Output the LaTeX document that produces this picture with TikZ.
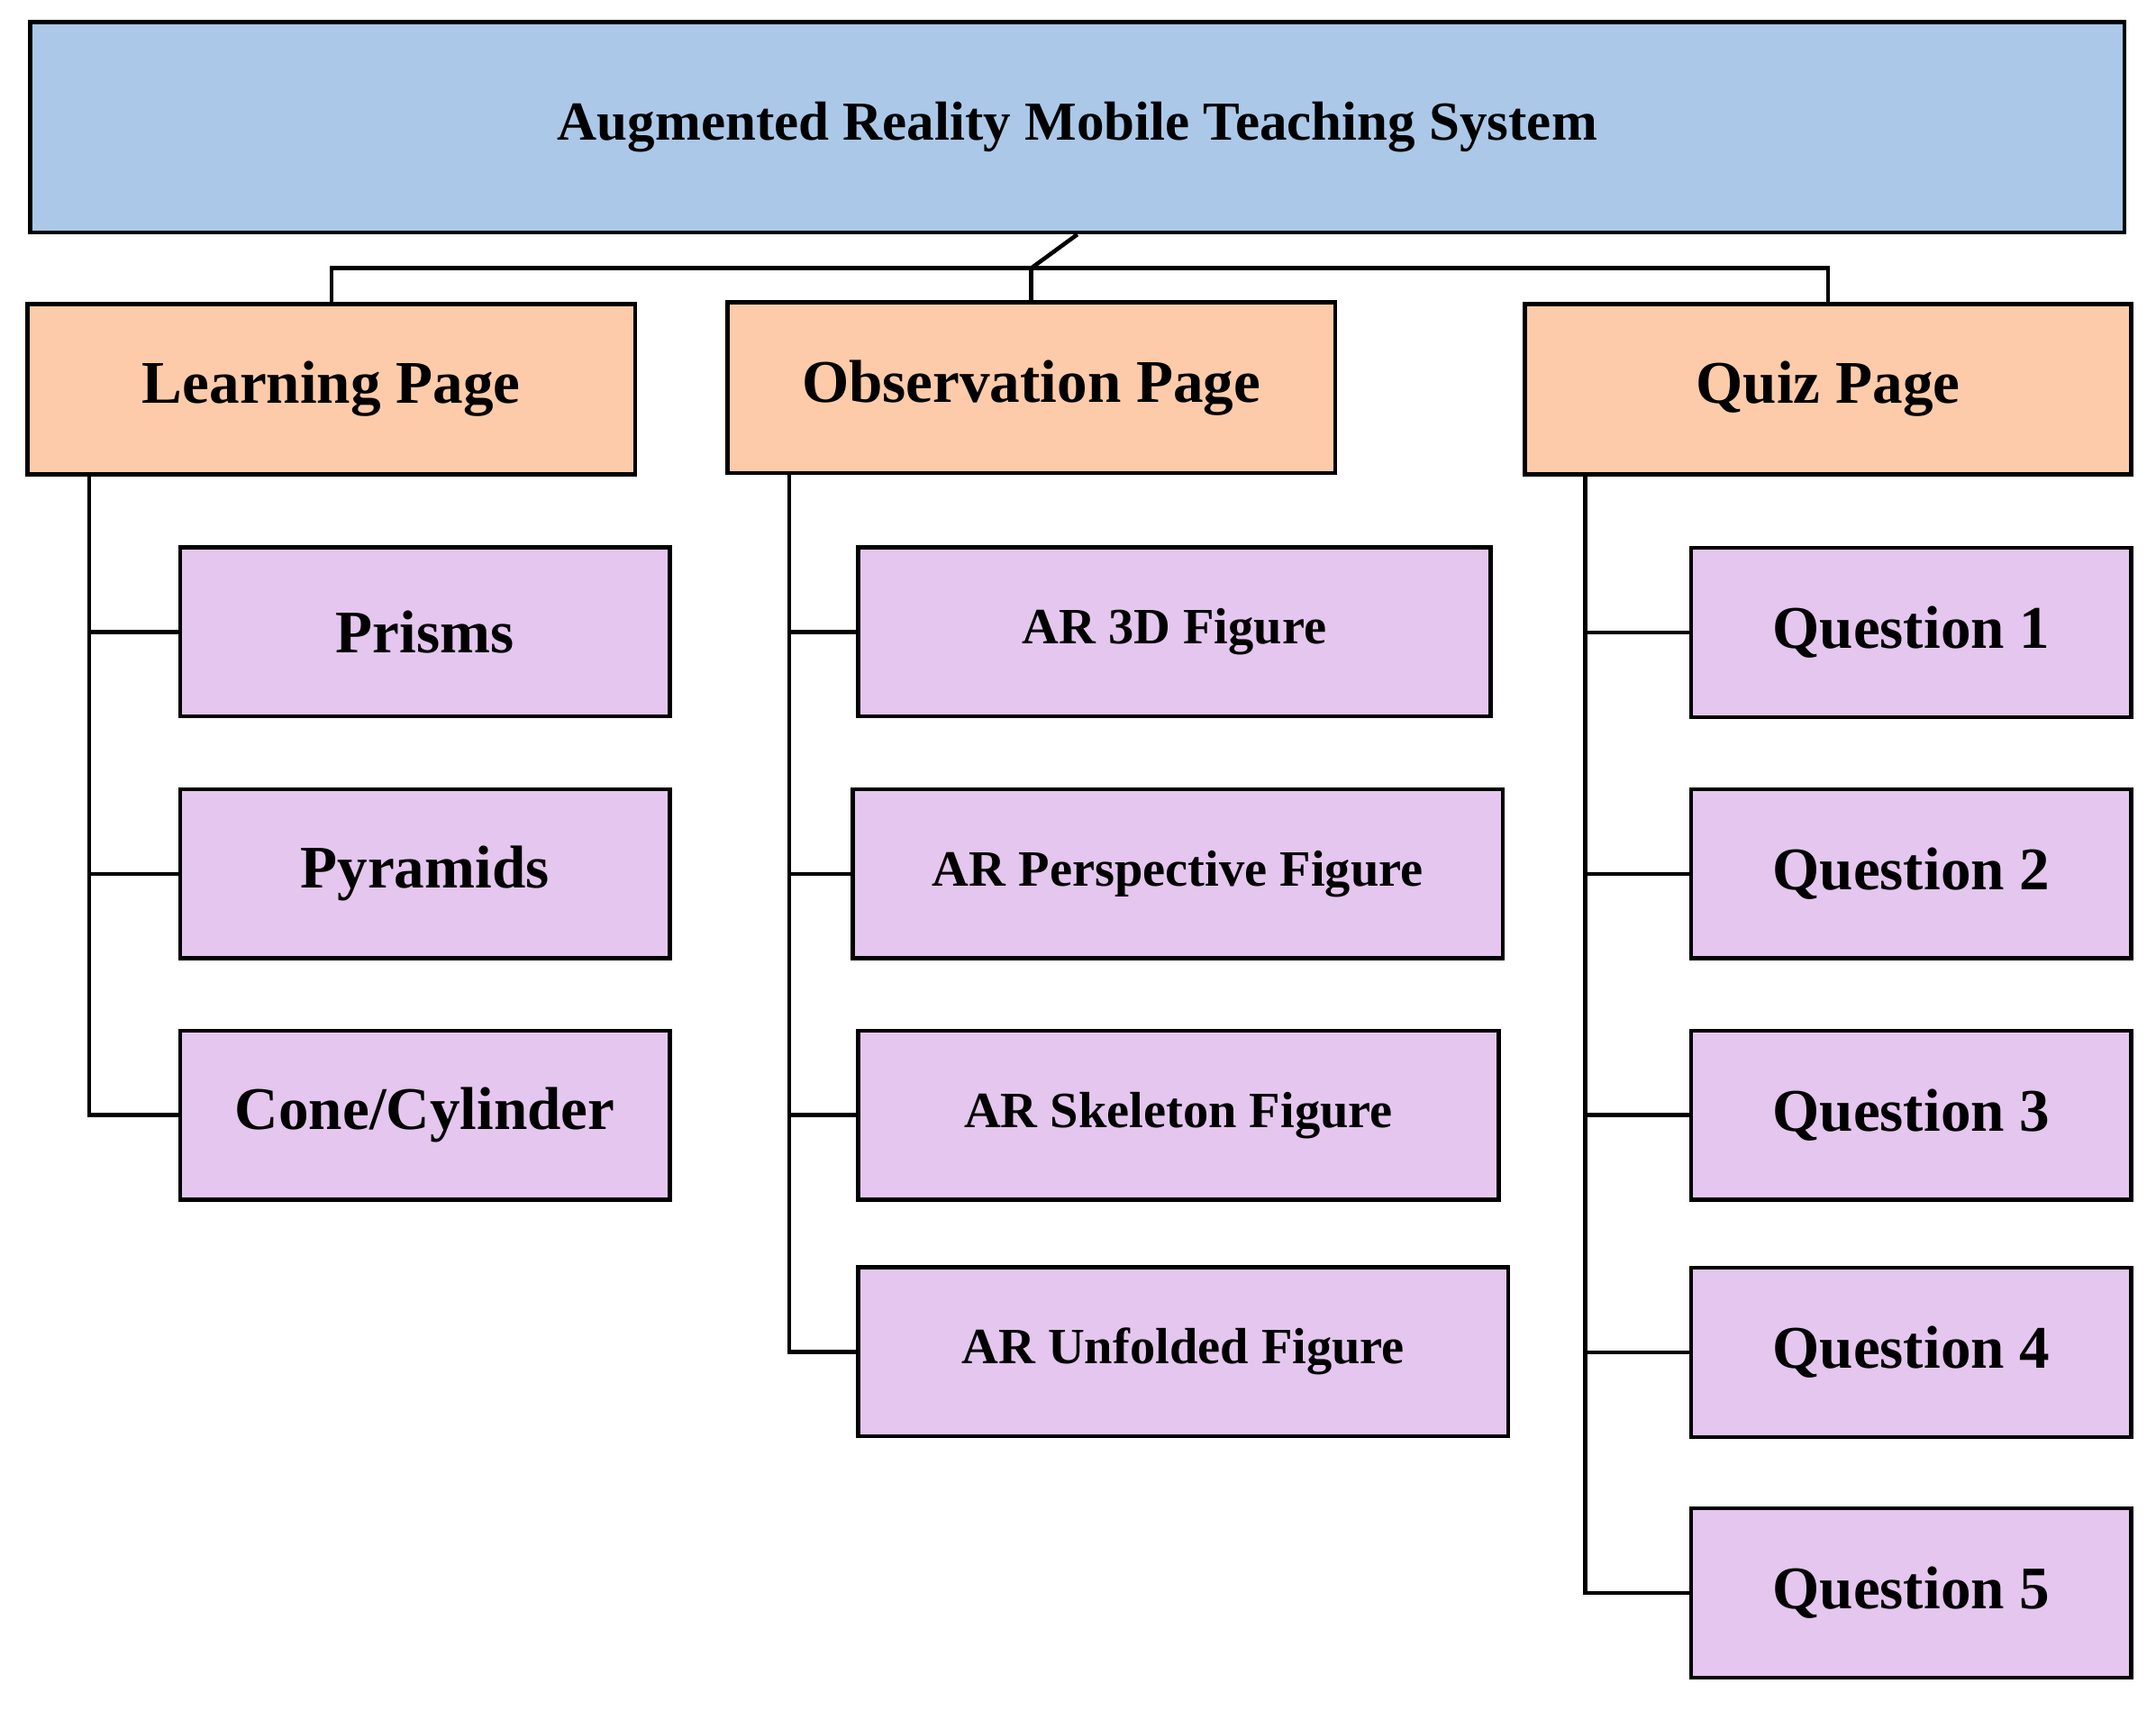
\documentclass[tikz,border=0pt]{standalone}
\usepackage{fontspec}
\setmainfont{Liberation Serif}
\begin{document}
\begin{tikzpicture}[x=1pt,y=-1pt,line width=3pt,
 bx/.style={draw=black,font=\bfseries},
 top/.style={bx,fill={rgb,255:red,171;green,200;blue,232}},
 mid/.style={bx,fill={rgb,255:red,253;green,203;blue,169}},
 leaf/.style={bx,fill={rgb,255:red,228;green,198;blue,238}}]
\useasboundingbox (0,0) rectangle (1568,1244);
\newcommand{\bxx}[7]{\draw[#1] (#3,#4) rectangle (#5,#6); \node[font=\bfseries\fontsize{#7}{#7}\selectfont] (#2) at ({(#3+#5)/2},{(#4+#6)/2}) {\strut};}
% boxes as nodes
\node[top,minimum width=1523,minimum height=153,font=\bfseries\fontsize{40}{40}\selectfont] (sys) at (783.5,92.5) {Augmented Reality Mobile Teaching System};
\tikzset{m/.style={mid,minimum width=442,minimum height=124,font=\bfseries\fontsize{44}{44}\selectfont}}
\node[m] (lp) at (241,283) {Learning Page};
\node[m] (op) at (750,282) {Observation Page};
\node[m,minimum width=441] (qp) at (1329.5,283) {Quiz Page};
\tikzset{l/.style={leaf,minimum height=123,font=\bfseries\fontsize{44}{44}\selectfont},
 a/.style={leaf,minimum height=123,font=\bfseries\fontsize{37}{37}\selectfont}}
\node[l,minimum width=356] (c1) at (309,459.5) {Prisms};
\node[l,minimum width=356] (c2) at (309,635.5) {Pyramids};
\node[l,minimum width=356] (c3) at (309,811) {Cone/Cylinder};
\node[a,minimum width=460] (o1) at (854,459.5) {AR 3D Figure};
\node[a,minimum width=473] (o2) at (856.5,635.5) {AR Perspective Figure};
\node[a,minimum width=466] (o3) at (857,811) {AR Skeleton Figure};
\node[a,minimum width=473] (o4) at (860.5,983) {AR Unfolded Figure};
\foreach \i/\y in {1/460,2/635.5,3/811,4/983.5,5/1158.5}
 \node[l,minimum width=320] (q\i) at (1390,\y) {Question \i};
% connectors
\coordinate (j) at (750,195);
\draw (sys.south) -- (j);
\draw (lp.north) |- (j) -| (qp.north);
\draw (j) -- (op.north);
\draw ([xshift=-176]lp.south) |- (c1.west);
\draw ([xshift=-176]lp.south) |- (c2.west);
\draw ([xshift=-176]lp.south) |- (c3.west);
\foreach \n in {o1,o2,o3,o4} \draw ([xshift=-176]op.south) |- (\n.west);
\foreach \n in {q1,q2,q3,q4,q5} \draw ([xshift=-176.5]qp.south) |- (\n.west);
\end{tikzpicture}
\end{document}
